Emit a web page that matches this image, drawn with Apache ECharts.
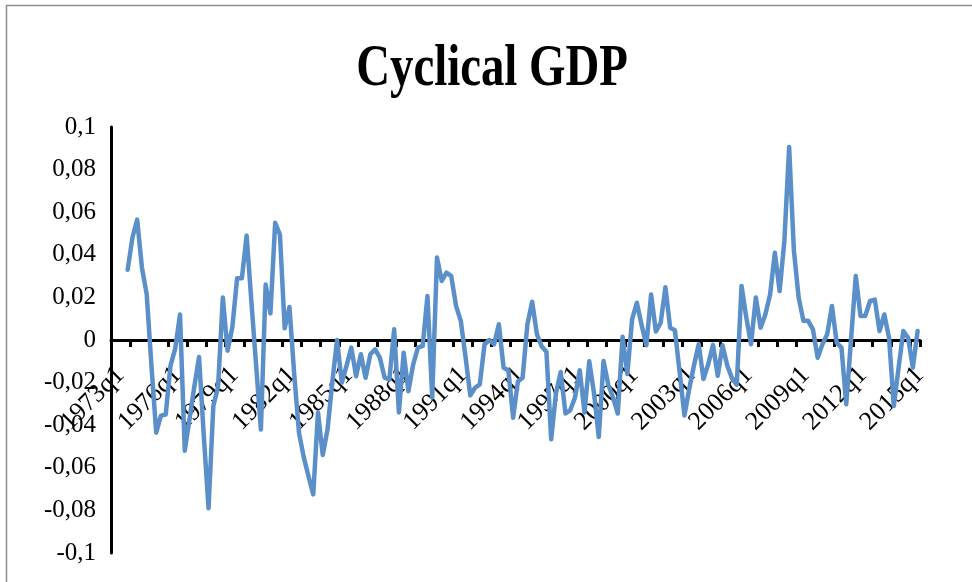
<!DOCTYPE html>
<html>
<head>
<meta charset="utf-8">
<script src="https://cdn.jsdelivr.net/npm/echarts@6/dist/echarts.min.js"></script>
<style>
  html, body { margin: 0; padding: 0; background: #ffffff; }
  #chart { width: 972px; height: 582px; }
</style>
</head>
<body>
<div id="chart"></div>
<script>
// Quarterly categories 1973q1 .. 2015q2
const startYear = 1973;
const quarterCount = 170;
const categories = [];
for (let k = 0; k < quarterCount; k++) {
  categories.push((startYear + Math.floor(k / 4)) + 'q' + (k % 4 + 1));
}

// Cyclical component of GDP (first three quarters not available)
const cyclicalGdp = [
  null, null, null, 0.033, 0.048, 0.0565, 0.034, 0.0215,
  -0.012, -0.0435, -0.0355, -0.035, -0.012, -0.004, 0.012, -0.052,
  -0.037, -0.022, -0.008, -0.045, -0.079, -0.031, -0.022, 0.020,
  -0.005, 0.006, 0.029, 0.029, 0.049, 0.018, -0.012, -0.042,
  0.026, 0.0125, 0.055, 0.0495, 0.0055, 0.0155, -0.016, -0.0435,
  -0.055, -0.064, -0.0725, -0.034, -0.054, -0.042, -0.020, 0.0,
  -0.020, -0.012, -0.0036, -0.017, -0.0067, -0.0177, -0.0067, -0.0044,
  -0.0083, -0.0177, -0.0185, 0.005, -0.034, -0.006, -0.024, -0.0114,
  -0.0036, -0.0028, 0.0207, -0.027, 0.0387, 0.0277, 0.0316, 0.030,
  0.016, 0.009, -0.008, -0.026, -0.0224, -0.0208, -0.002, 0.0,
  -0.002, 0.0074, -0.013, -0.0142, -0.0365, -0.0195, -0.0177, 0.0074,
  0.018, 0.0027, -0.003, -0.0055, -0.0466, -0.025, -0.015, -0.0345,
  -0.033, -0.027, -0.0142, -0.034, -0.010, -0.025, -0.0455, -0.0099,
  -0.021, -0.027, -0.0345, 0.0015, -0.016, 0.0097, 0.0175, 0.007,
  -0.0025, 0.0214, 0.004, 0.008, 0.0248, 0.0058, 0.0046, -0.0153,
  -0.0354, -0.023, -0.012, -0.002, -0.0183, -0.0114, -0.0023, -0.0168,
  -0.0025, -0.012, -0.018, -0.021, 0.0254, 0.0105, -0.002, 0.020,
  0.0058, 0.012, 0.0214, 0.041, 0.023, 0.0465, 0.0906, 0.042,
  0.020, 0.009, 0.009, 0.005, -0.0083, -0.002, 0.0027, 0.016,
  -0.0013, -0.0036, -0.0302, 0.0, 0.030, 0.0113, 0.0113, 0.0183,
  0.019, 0.0042, 0.012, 0.001, -0.031, -0.013, 0.0042, 0.001,
  -0.013, 0.0042
];

// Value axis range and step
const yMin = -0.1;
const yMax = 0.1;
const yStep = 0.02;

// Plot area
const gridTop = 127;
const gridBottom = 29;
const chartHeight = 582;
const plotHeight = chartHeight - gridTop - gridBottom;
// distance of the zero line above the bottom edge of the plot
const zeroLift = plotHeight * (0 - yMin) / (yMax - yMin);

const serifFont = '"Liberation Serif", "Times New Roman", serif';

const chart = echarts.init(document.getElementById('chart'), null, { renderer: 'canvas' });

chart.setOption({
  backgroundColor: '#ffffff',
  animation: false,
  graphic: [
    {
      // chart area frame
      type: 'rect',
      silent: true,
      shape: { x: 6.5, y: 5.5, width: 1000, height: 600 },
      style: { fill: 'none', stroke: '#8e8e8e', lineWidth: 1.5 }
    },
    {
      type: 'text',
      x: 492,
      y: 69,
      scaleX: 0.78,
      style: {
        text: 'Cyclical GDP',
        font: 'bold 60px ' + serifFont,
        fill: '#000000',
        textAlign: 'center',
        textVerticalAlign: 'middle'
      }
    }
  ],
  grid: {
    left: 111, right: 52, top: gridTop, bottom: gridBottom,
    containLabel: false,
    outerBoundsMode: 'none'
  },
  xAxis: {
    type: 'category',
    data: categories,
    boundaryGap: true,
    position: 'bottom',
    offset: -zeroLift,
    axisLine: { onZero: false, lineStyle: { color: '#000000', width: 3 } },
    axisTick: { show: true, interval: 3, length: 7, lineStyle: { color: '#000000', width: 3 } },
    axisLabel: {
      interval: 11,
      rotate: 45,
      margin: 24,
      align: 'right',
      verticalAlign: 'top',
      lineHeight: 20,
      color: '#000000',
      fontFamily: serifFont,
      fontSize: 26
    },
    splitLine: { show: false }
  },
  yAxis: {
    type: 'value',
    min: yMin,
    max: yMax,
    interval: yStep,
    axisLine: { show: true, lineStyle: { color: '#000000', width: 3 } },
    axisTick: { show: false },
    splitLine: { show: false },
    axisLabel: {
      margin: 15,
      color: '#000000',
      fontFamily: serifFont,
      fontSize: 25,
      formatter: function (v) {
        return String(parseFloat(v.toFixed(2))).replace('.', ',');
      }
    }
  },
  series: [
    {
      name: 'Cyclical GDP',
      type: 'line',
      data: cyclicalGdp,
      showSymbol: false,
      connectNulls: false,
      lineStyle: { color: '#5b8fca', width: 4.5, join: 'round', cap: 'round' },
      z: 3
    }
  ]
});
</script>
</body>
</html>
